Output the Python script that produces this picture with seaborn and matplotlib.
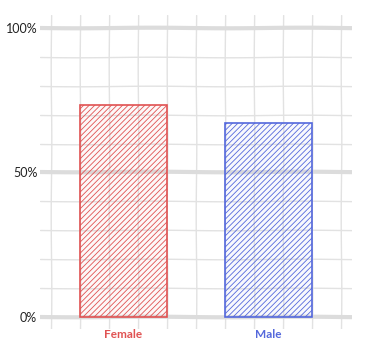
import numpy as np
import matplotlib
matplotlib.use("Agg")
import matplotlib.pyplot as plt
import seaborn as sns
import pandas as pd

categories = ["Female", "Male"]
values = [0.733, 0.671]
colors = ["#e05252", "#5468dc"]
y_tick_labels = ["0%", "50%", "100%"]

sns.set_style("white")
plt.rcParams["font.family"] = ["Lato", "DejaVu Sans"]
plt.rcParams["hatch.linewidth"] = 0.6

df = pd.DataFrame({"sex": categories, "share": values})

fig = plt.figure(figsize=(3.69, 3.51), dpi=100)
ax = fig.add_axes([0.1084, 0.0627, 0.8455, 0.8946])

sns.barplot(data=df, x="sex", y="share", hue="sex", palette=colors,
            width=0.6, ax=ax, legend=False, zorder=3)

for patch, c in zip(ax.patches, colors):
    rgb = matplotlib.colors.to_rgb(c)
    patch.set_facecolor((*rgb, 0.04))
    patch.set_edgecolor(c)
    patch.set_linewidth(1.2)
    patch.set_hatch("//////")

ax.set_xlim(-0.576, 1.576)
ax.set_ylim(-0.0415, 1.045)

ax.set_xticks([0, 1])
ax.set_xticklabels(categories, fontweight="bold", fontsize=8.5)
for lbl, c in zip(ax.get_xticklabels(), colors):
    lbl.set_color(c)

ax.set_yticks([0, 0.5, 1.0])
ax.set_yticklabels(y_tick_labels, fontsize=9, color="#222222")

ax.tick_params(axis="both", which="both", length=0)
ax.tick_params(axis="x", pad=0)
ax.tick_params(axis="y", pad=2)

ax.grid(False)
for xv in np.arange(-0.5, 1.51, 0.2):
    l = ax.axvline(xv, color="#e2e2e2", lw=1.0, zorder=1)
    l.set_sketch_params(0.3, 150, 1)
for yv in np.arange(0, 1.01, 0.1):
    major = abs(yv * 2 - round(yv * 2)) < 1e-6
    l = ax.axhline(yv, color="#dcdcdc" if major else "#e2e2e2",
                   lw=3.0 if major else 1.0, zorder=1)
    l.set_sketch_params(0.3, 150, 1)

ax.set_xlabel("")
ax.set_ylabel("")
for s in ax.spines.values():
    s.set_visible(False)

fig.savefig("out.png", dpi=100)
